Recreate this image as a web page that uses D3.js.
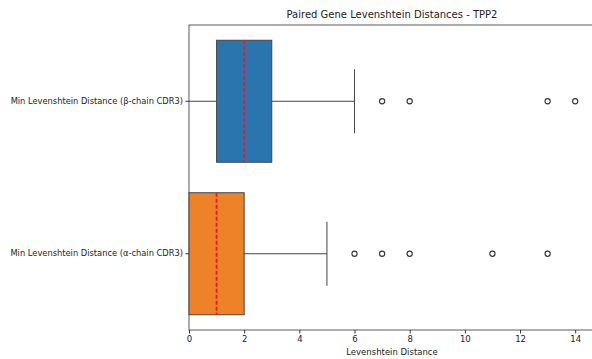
<!DOCTYPE html>
<html>
<head>
<meta charset="utf-8">
<script src="https://cdn.jsdelivr.net/npm/d3@7"></script>
<style>
  body { margin: 0; background: #fff; }
  text { font-family: "DejaVu Sans", sans-serif; fill: #222; }
</style>
</head>
<body>
<svg id="chart" width="592" height="359"></svg>
<script>
// box stats
const categories = ["Min Levenshtein Distance (β-chain CDR3)", "Min Levenshtein Distance (α-chain CDR3)"]
const q1s = [1, 0]
const medians = [2, 1]
const q3s = [3, 2]
const whiskLo = [0, 0]
const whiskHi = [6, 5]
const outliers = [[7, 8, 13, 14], [6, 7, 8, 11, 13]]
const colors = ["#2a75ae", "#ee8228"]
const xTicks = [0, 2, 4, 6, 8, 10, 12, 14]

const margin = {left: 189, right: 3, top: 25, bottom: 29}
const W = 592, H = 359
const plotRight = 595 // right spine sits just past the picture edge

const svg = d3.select("#chart")

const x = d3.scaleLinear().domain([0, 14.5]).range([margin.left, W - margin.right])
const y = d3.scaleBand().domain(categories).range([margin.top, H - margin.bottom]).paddingInner(0.2).paddingOuter(0.1)

svg.append("rect")
  .attr("x", margin.left).attr("y", margin.top)
  .attr("width", plotRight - margin.left).attr("height", H - margin.bottom - margin.top)
  .attr("fill", "none").attr("stroke", "#333").attr("stroke-width", 0.8)

const xAxis = svg.append("g")
  .attr("transform", `translate(0,${H - margin.bottom})`)
  .call(d3.axisBottom(x).tickValues(xTicks).tickSize(3.5).tickPadding(2.5))
xAxis.select(".domain").remove()
xAxis.selectAll("text").style("font-size", "8.5px").attr("fill", "#222")
xAxis.selectAll("line").attr("stroke", "#333")

const yAxis = svg.append("g")
  .attr("transform", `translate(${margin.left},0)`)
  .call(d3.axisLeft(y).tickSize(3.5).tickPadding(2.5))
yAxis.select(".domain").remove()
yAxis.selectAll("text").style("font-size", "8.3px").attr("fill", "#222")
yAxis.selectAll("line").attr("stroke", "#333")

const boxes = svg.selectAll(".box")
  .data(categories)
  .enter()
  .append("g")
  .classed("box", true)

const capH = 64

boxes.each(function(cat, i) {
  const g = d3.select(this)
  const top = y(cat), bh = y.bandwidth(), mid = top + bh / 2

  g.append("line")
    .attr("x1", x(whiskLo[i])).attr("x2", x(q1s[i]))
    .attr("y1", mid).attr("y2", mid)
    .attr("stroke", "#444").attr("stroke-width", 1)
  g.append("line")
    .attr("x1", x(q3s[i])).attr("x2", x(whiskHi[i]))
    .attr("y1", mid).attr("y2", mid)
    .attr("stroke", "#444").attr("stroke-width", 1)
  g.append("line")
    .attr("x1", x(whiskHi[i])).attr("x2", x(whiskHi[i]))
    .attr("y1", mid - capH / 2).attr("y2", mid + capH / 2)
    .attr("stroke", "#444").attr("stroke-width", 1)

  g.append("rect")
    .attr("x", x(q1s[i])).attr("y", top)
    .attr("width", x(q3s[i]) - x(q1s[i])).attr("height", bh)
    .attr("fill", colors[i]).attr("stroke", "#444").attr("stroke-width", 1)

  g.append("line")
    .attr("x1", x(medians[i])).attr("x2", x(medians[i]))
    .attr("y1", top).attr("y2", top + bh)
    .attr("stroke", "#e8192c").attr("stroke-width", 1.8)
    .attr("stroke-dasharray", "4,2")

  g.selectAll(".flier")
    .data(outliers[i])
    .enter()
    .append("circle")
    .classed("flier", true)
    .attr("cx", d => x(d)).attr("cy", mid).attr("r", 2.6)
    .attr("fill", "#fff").attr("stroke", "#333").attr("stroke-width", 1.1)
})

svg.append("text")
  .attr("x", (margin.left + plotRight) / 2).attr("y", 18)
  .attr("text-anchor", "middle")
  .style("font-size", "10px")
  .text("Paired Gene Levenshtein Distances - TPP2")

svg.append("text")
  .attr("x", (margin.left + plotRight) / 2).attr("y", 355)
  .attr("text-anchor", "middle")
  .style("font-size", "8.5px")
  .text("Levenshtein Distance")
</script>
</body>
</html>
